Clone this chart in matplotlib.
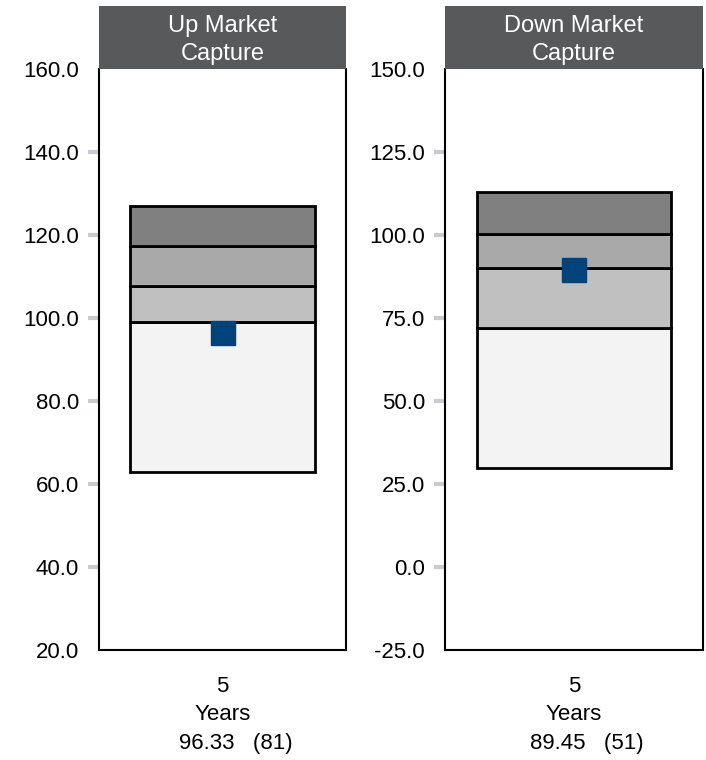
import matplotlib
matplotlib.use("Agg")
import matplotlib.pyplot as plt
from matplotlib.patches import Rectangle

plt.rcParams['font.family'] = ['Liberation Sans', 'DejaVu Sans']

titles = ["Up Market\nCapture", "Down Market\nCapture"]
period_labels = ["5\nYears", "5\nYears"]
values = [96.33, 89.45]
ranks = [81, 51]
# quartile boundaries (bottom -> top)
up_bounds = [62.8, 99.1, 107.8, 117.4, 127.0]
down_bounds = [29.7, 72.1, 90.2, 100.4, 113.0]
bounds = [up_bounds, down_bounds]
up_ticks = [20, 40, 60, 80, 100, 120, 140, 160]
down_ticks = [-25, 0, 25, 50, 75, 100, 125, 150]
ticks = [up_ticks, down_ticks]
quartile_colors = ["#f3f3f3", "#c0c0c0", "#a9a9a9", "#808080"]

W, H = 706, 760
fig = plt.figure(figsize=(W / 100, H / 100), dpi=100)

panels = [(99, 346), (445, 703)]
top_px, bot_px = 69, 650
header_top = 6
FS = 16
FSB = 16

for i, (x0, x1) in enumerate(panels):
    ax = fig.add_axes([x0 / W, 1 - bot_px / H, (x1 - x0) / W, (bot_px - top_px) / H])
    tk = ticks[i]
    ax.set_ylim(tk[0], tk[-1])
    ax.set_xlim(-0.5, 0.5)
    b = bounds[i]
    for j in range(4):
        ax.bar(0, b[j + 1] - b[j], bottom=b[j], width=0.75, color=quartile_colors[j],
               edgecolor="black", linewidth=2, zorder=2)
    ax.plot([0], [values[i]], marker="s", markersize=17, color="#00427a",
            markeredgecolor="#00427a", linestyle="none", zorder=3)
    ax.set_yticks(tk)
    ax.set_yticklabels([f"{t:.1f}" for t in tk], fontsize=FS)
    ax.tick_params(axis="y", length=8, width=3, color="#c8cbcf", pad=6.5)
    tl = ax.yaxis.get_major_ticks()
    tl[0].tick1line.set_visible(False)
    tl[-1].tick1line.set_visible(False)
    ax.set_xticks([])
    for s in ["left", "right", "bottom", "top"]:
        ax.spines[s].set_color("black")
        ax.spines[s].set_linewidth(1.5)
    ax.spines["top"].set_visible(False)

    # header
    fig.patches.append(Rectangle((x0 / W, 1 - top_px / H), (x1 - x0) / W, (top_px - header_top) / H,
                                 transform=fig.transFigure, facecolor="#58595b", edgecolor="none"))
    cx = (x0 + x1) / 2 / W
    fig.text(cx, 1 - 32 / H, titles[i].split("\n")[0], color="white", ha="center", va="baseline",
             fontsize=17)
    fig.text(cx, 1 - 60 / H, titles[i].split("\n")[1], color="white", ha="center", va="baseline",
             fontsize=17)
    fig.text(cx, 1 - 692 / H, period_labels[i].split("\n")[0], ha="center", va="baseline",
             fontsize=FSB)
    fig.text(cx, 1 - 720 / H, period_labels[i].split("\n")[1], ha="center", va="baseline",
             fontsize=FSB)
    fig.text(cx + 13 / W, 1 - 749 / H, f"{values[i]:.2f}   ({ranks[i]})", ha="center",
             va="baseline", fontsize=FSB)

fig.savefig("out.png", dpi=100)
